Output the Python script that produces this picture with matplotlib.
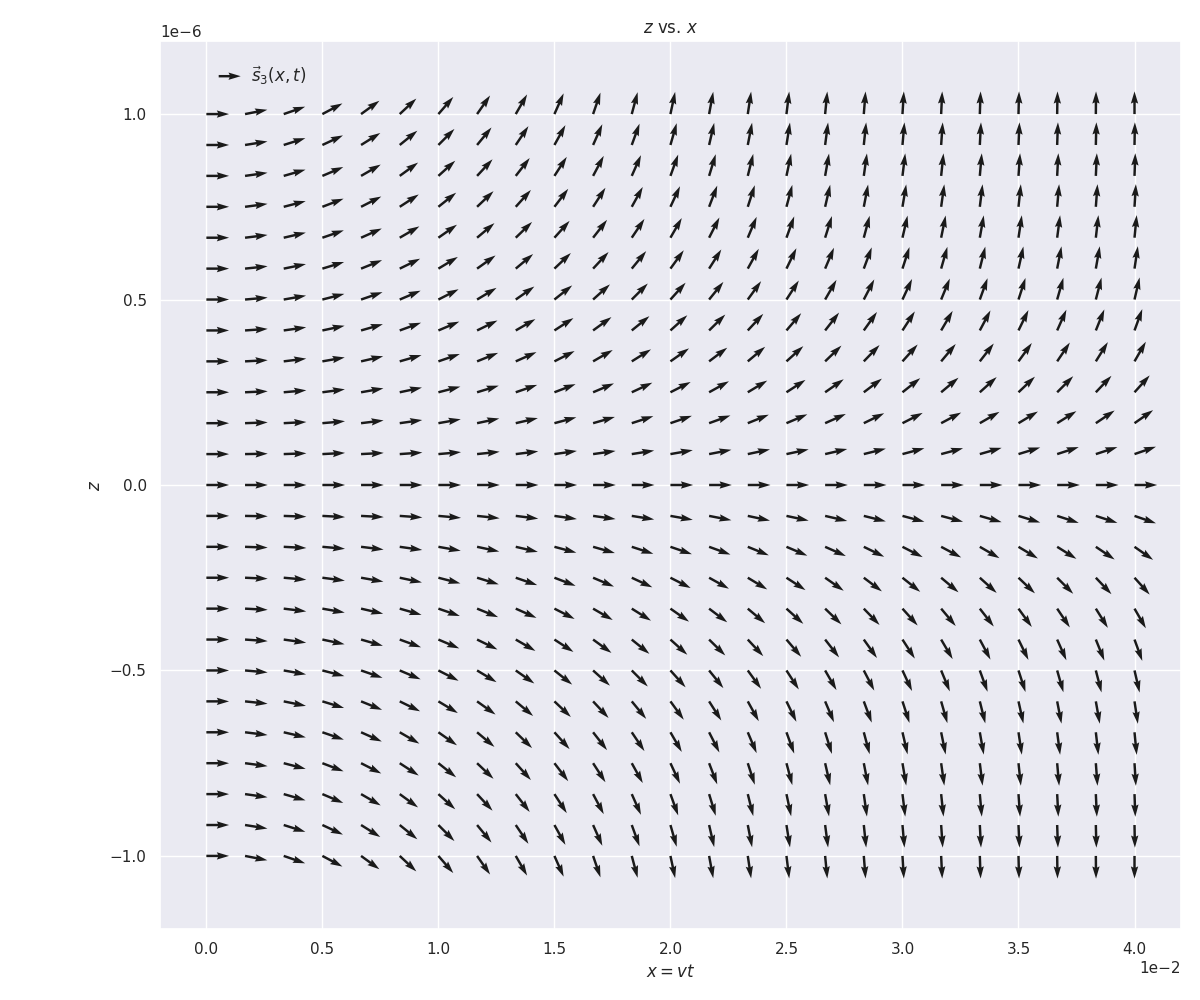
import numpy as np
import matplotlib
matplotlib.use("Agg")
import matplotlib.pyplot as plt
import seaborn as sns
from matplotlib.legend_handler import HandlerBase
from matplotlib.patches import FancyArrow

# ---------------- data ----------------
# grid of sample points
x_values = np.linspace(0.0, 0.04, 25)      # x = v t
z_values = np.linspace(-1e-6, 1e-6, 25)    # z

angles_upper = [
    [0, 0, 0, 0, 0, 0, 0, 0, 0, 0, 0, 0, 0, 0, 0, 0, 0, 0, 0, 0, 0, 0, 0, 0, 0],
    [0, 1, 2, 3, 3, 4, 5, 6, 7, 8, 8, 9, 10, 11, 12, 12, 13, 14, 15, 15, 16, 17, 18, 18, 19],
    [0, 2, 3, 5, 7, 8, 10, 12, 13, 15, 16, 18, 19, 20, 22, 23, 24, 26, 27, 28, 30, 31, 32, 34, 35],
    [0, 2.5, 5, 7.5, 10, 12, 14.5, 17, 19, 21, 23, 25, 27, 29, 31, 33, 35, 37, 38.5, 40, 42, 43.5, 45, 46.5, 48],
    [0, 3, 7, 10, 13, 16, 19, 22, 24, 27, 30, 32, 35, 37, 40, 42, 44, 46, 48, 50, 52, 54, 56, 58, 60],
    [0, 4, 8, 12, 16, 20, 23, 26, 30, 33, 36, 39, 42, 44.5, 47, 49.5, 52, 54.5, 57, 59.5, 62, 64, 66, 68, 70],
    [0, 5, 10, 14.5, 19, 23, 27, 31, 35, 38.5, 42, 45, 48, 51, 54, 57, 60, 62.5, 65, 67.5, 70, 72, 74, 75.5, 77],
    [0, 6, 11.5, 17, 22, 26, 31, 35.5, 40, 43.5, 47, 50.5, 54, 57.5, 61, 64, 67, 69.5, 72, 74, 76, 77.5, 79, 80, 81.5],
    [0, 7, 13, 19, 24, 30, 35, 40, 44, 48, 52, 56, 60, 63, 67, 70, 72.5, 75, 77, 78.5, 80, 81.5, 82.5, 83.5, 84.5],
    [0, 7.5, 14.5, 21, 27, 33, 38.5, 43.5, 48, 52.5, 57, 61, 65, 69, 72, 75, 77, 79, 80.5, 82, 83, 84, 85, 85.8, 86.5],
    [0, 8, 16, 23, 30, 36, 42, 47, 52, 57, 62, 66, 70, 73, 76, 78, 80, 82, 83, 84, 85, 86, 87, 87.4, 88],
    [0, 9, 17.5, 25, 32, 39, 45, 50.5, 56, 61, 66, 70, 74, 77, 79, 81, 82.5, 84, 85, 86, 87, 87.5, 88, 88.6, 89],
    [0, 11, 19, 28, 36, 43, 49, 55, 60, 66, 71, 75, 78, 79.5, 81.5, 83, 84.5, 85.5, 86.5, 87.3, 88, 88.6, 89.1, 89.5, 90],
]
# lower half (z < 0) was read as the mirror image of the upper half
angles_lower = [[-a for a in row] for row in reversed(angles_upper[1:])]
angles_deg = angles_lower + angles_upper   # rows z = -1e-6 ... +1e-6

legend_label = r"$\vec{s}_3(x,t)$"

# ---------------- plot ----------------
sns.set_theme(style="darkgrid")

fig = plt.figure(figsize=(12, 10), dpi=100)
ax = fig.add_axes([0.1333, 0.071, 0.8508, 0.888])

X, Z = np.meshgrid(x_values, z_values)
th = np.deg2rad(np.array(angles_deg, dtype=float))
U = np.cos(th)
V = np.sin(th)

q = ax.quiver(X, Z, U, V, color="k", label=legend_label)

ax.set_xlim(-0.002, 0.042)
ax.set_ylim(-1.197e-6, 1.197e-6)
ax.ticklabel_format(axis="both", style="sci", scilimits=(0, 0))

ax.set_title(r"$z$ vs. $x$")
ax.set_xlabel(r"$x = vt$")
ax.set_ylabel(r"$z$")


class ArrowHandler(HandlerBase):
    def create_artists(self, legend, orig_handle, xdescent, ydescent,
                       width, height, fontsize, trans):
        y = height / 2.0 - ydescent
        w = 1.76
        arr = FancyArrow(-xdescent, y, width, 0, width=w,
                         head_width=3 * w, head_length=5 * w,
                         length_includes_head=True, overhang=0.1,
                         color="k", lw=0, transform=trans)
        return [arr]


ax.legend(handles=[q], labels=[legend_label],
          handler_map={type(q): ArrowHandler()},
          loc="upper left", bbox_to_anchor=(0.051, 0.981),
          borderaxespad=0, frameon=False, fontsize=12,
          handlelength=1.32, handletextpad=0.6)

fig.savefig("out.png", dpi=100)
